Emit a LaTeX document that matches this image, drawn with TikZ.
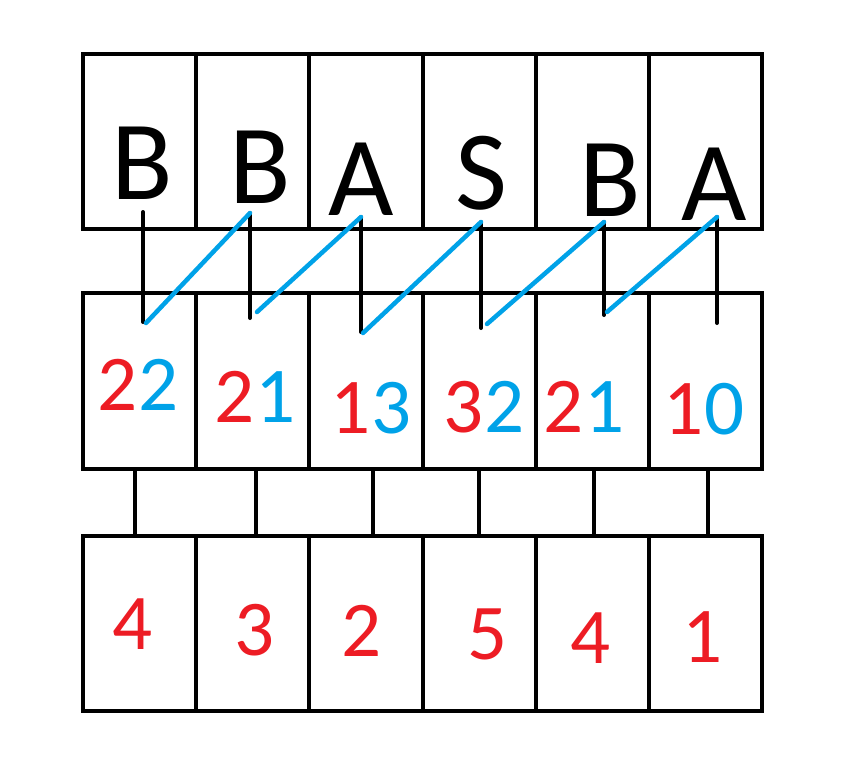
\documentclass[tikz,border=0pt]{standalone}
\usepackage{fontspec}
\setmainfont{Carlito}
\definecolor{pred}{HTML}{ED1C24}
\definecolor{pblue}{HTML}{00A2E8}

\begin{document}
\begin{tikzpicture}[x=1pt, y=-1pt, line width=4pt,
  cell/.style={draw, minimum width=113.17pt, minimum height=175pt, inner sep=0pt, outer sep=0pt},
  letter/.style={anchor=base, inner sep=0pt, font=\fontsize{113}{113}\selectfont},
  num/.style={anchor=base, inner sep=0pt, font=\fontsize{79}{79}\selectfont},
  tick/.style={line cap=round},
  link/.style={pblue, line width=4.5pt, line cap=round}]
\useasboundingbox (0,0) rectangle (849,779);
% three rows of cells
\foreach \i in {1,...,6} {
    \node[cell] (t\i) at ({83+113.17*(\i-0.5)},141.5) {};
    \node[cell, minimum height=176pt] (m\i) at ({83+113.17*(\i-0.5)},381) {};
    \node[cell] (b\i) at ({83+113.17*(\i-0.5)},623.5) {};
}
% letters
\foreach \c/\x/\y [count=\i] in {B/142/199, B/260/203, A/361/215, S/481/209, B/610/216, A/714/220}
    \node[letter] (l\i) at (\x,\y) {\c};
% two-colour numbers
\foreach \a/\b/\x/\y [count=\i] in {2/2/138/410, 2/1/255/422, 1/3/371/433, 3/2/484/432, 2/1/584/432, 1/0/704/434}
    \node[num] (n\i) at (\x,\y) {\textcolor{pred}{\a}\textcolor{pblue}{\b}};
\foreach \d/\x/\y [count=\i] in {4/133/649, 3/255/655, 2/362/656, 5/488/659, 4/591/663, 1/703/662}
    \node[num, pred] (k\i) at (\x,\y) {\d};
% links between middle and bottom row
\foreach \x [count=\i] in {135,256,373,479,594,708} {
    \coordinate (s\i) at (\x,0);
    \draw (m\i.south -| s\i) -- (b\i.north -| s\i);
}
% ticks
\foreach \x/\p/\q [count=\i] in {143/212/322, 250/213/318, 361/217/332, 481/222/328, 604/222/315, 717/217/323} {
    \coordinate (u\i) at (\x,\p);
    \coordinate (d\i) at (\x,\q);
    \draw[tick] (u\i) -- (d\i);
}
\foreach \x/\y [count=\i] in {146/323, 257/312, 363/333, 487/324, 607/312}
    \coordinate (e\i) at (\x,\y);
\foreach \a/\b in {1/2, 2/3, 3/4, 4/5, 5/6}
    \draw[link] (e\a) -- (u\b);
\end{tikzpicture}
\end{document}
